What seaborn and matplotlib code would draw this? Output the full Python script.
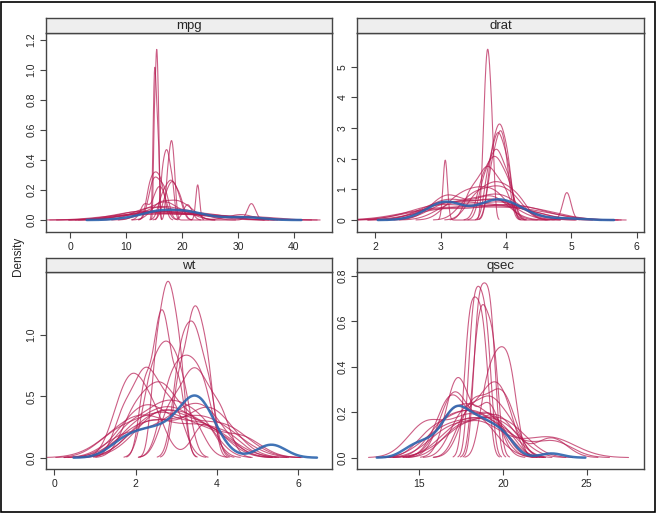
import numpy as np
import pandas as pd
import matplotlib
matplotlib.use("Agg")
import matplotlib.pyplot as plt
import seaborn as sns
from matplotlib.patches import Rectangle

sns.set_style("white")
plt.rcParams['font.family'] = ['Liberation Sans', 'DejaVu Sans']

# ---- observed data (mtcars) ----
mpg_obs = [21.0, 21.0, 22.8, 21.4, 18.7, 18.1, 14.3, 24.4, 22.8, 19.2, 17.8, 16.4, 17.3, 15.2, 10.4, 10.4,
           14.7, 32.4, 30.4, 33.9, 21.5, 15.5, 15.2, 13.3, 19.2, 27.3, 26.0, 30.4, 15.8, 19.7, 15.0, 21.4]
drat_obs = [3.90, 3.90, 3.85, 3.08, 3.15, 2.76, 3.21, 3.69, 3.92, 3.92, 3.92, 3.07, 3.07, 3.07, 2.93, 3.00,
            3.23, 4.08, 4.93, 4.22, 3.70, 2.76, 3.15, 3.73, 3.08, 4.08, 4.43, 3.77, 4.22, 3.62, 3.54, 4.11]
wt_obs = [2.620, 2.875, 2.320, 3.215, 3.440, 3.460, 3.570, 3.190, 3.150, 3.440, 3.440, 4.070, 3.730, 3.780,
          5.250, 5.424, 5.345, 2.200, 1.615, 1.835, 2.465, 3.520, 3.435, 3.840, 3.845, 1.935, 2.140, 1.513,
          3.170, 2.770, 3.570, 2.780]
qsec_obs = [16.46, 17.02, 18.61, 19.44, 17.02, 20.22, 15.84, 20.00, 22.90, 18.30, 18.90, 17.40, 17.60, 18.00,
            17.98, 17.82, 17.42, 19.47, 18.90, 20.01, 20.20, 16.87, 17.30, 15.41, 17.05, 18.90, 16.70, 16.90,
            14.50, 15.50, 14.60, 18.60]

# ---- imputed values (one list per imputation) ----
mpg_imp = [
    [15.03, 15.27, 15.45, 15.60, 15.82],
    [14.9, 15.1, 15.25, 15.5, 15.8],
    [17.4, 17.9, 18.2, 18.6, 22.8],
    [16.4, 16.9, 17.3, 17.7, 18.3],
    [14.0, 14.7, 15.3, 15.9, 16.6],
    [16.3, 17.3, 18.0, 18.7, 19.7],
    [13.3, 15.2, 16.0, 16.8, 21.0],
    [17.0, 18.0, 18.5, 19.5, 32.4],
    [8.0, 13.0, 17.5, 22.0, 30.0],
    [10.4, 14.5, 17.0, 21.0, 27.0],
    [11.0, 15.0, 18.5, 21.5, 26.0],
    [12.0, 14.5, 16.5, 19.0, 23.0],
    [13.0, 15.5, 17.0, 18.5, 21.5],
    [10.5, 12.5, 15.5, 20.0, 24.0],
    [14.0, 16.0, 18.0, 20.5, 30.5],
    [15.5, 16.5, 18.5, 19.5, 21.5],
    [14.3, 15.0, 15.6, 16.4, 17.2],
    [11.5, 14.0, 18.0, 22.0, 33.0],
    [9.5, 15.0, 19.5, 24.0, 31.0],
    [10.0, 12.5, 14.0, 21.0, 25.5],
]
drat_imp = [
    [3.07, 3.66, 3.70, 3.72, 3.75, 3.79],
    [3.76, 3.84, 3.90, 3.96, 4.04],
    [3.75, 3.82, 3.88, 3.92, 3.96, 4.02, 4.93],
    [3.72, 3.82, 3.88, 3.95, 4.04],
    [3.65, 3.77, 3.85, 3.93, 4.05],
    [3.62, 3.74, 3.83, 3.92, 4.05],
    [3.45, 3.62, 3.72, 3.83, 3.99],
    [3.50, 3.70, 3.85, 4.00, 4.20],
    [3.40, 3.60, 3.80, 3.95, 4.15],
    [3.15, 3.35, 3.50, 3.65, 3.80, 3.95],
    [2.85, 3.05, 3.20, 3.75, 3.90, 4.10],
    [2.70, 3.00, 3.15, 3.70, 3.95, 4.30],
    [2.90, 3.10, 3.25, 3.65, 3.85, 4.00],
    [2.60, 3.00, 3.30, 3.80, 4.10, 4.50],
    [3.00, 3.10, 3.20, 3.65, 3.75, 3.90],
    [2.80, 3.20, 3.60, 3.90, 4.20, 4.60],
    [3.10, 3.40, 3.70, 3.90, 4.10],
    [2.90, 3.15, 3.50, 3.85, 4.30],
    [3.05, 3.20, 3.70, 3.80, 4.20],
    [2.75, 3.10, 3.90, 4.00, 4.40],
]
wt_imp = [
    [2.49, 2.67, 2.80, 2.93, 3.11],
    [3.05, 3.30, 3.45, 3.60, 3.80],
    [3.03, 3.22, 3.40, 3.56, 3.82],
    [2.22, 2.50, 2.65, 2.80, 3.08],
    [2.30, 2.55, 2.75, 2.95, 3.20],
    [2.75, 3.02, 3.25, 3.48, 3.75],
    [2.80, 3.20, 3.45, 3.70, 4.10],
    [1.70, 2.10, 2.30, 2.60, 3.00],
    [1.90, 2.30, 2.60, 2.90, 3.40],
    [1.60, 1.90, 2.10, 2.50, 3.70],
    [1.80, 2.30, 2.50, 3.30, 3.90],
    [1.50, 2.20, 2.70, 3.20, 4.00],
    [2.00, 2.40, 3.30, 3.60, 4.30],
    [1.60, 2.20, 2.40, 3.50, 3.90],
    [2.10, 2.60, 3.10, 3.60, 4.60],
    [1.90, 2.50, 2.90, 3.40, 4.20],
    [2.30, 2.70, 3.00, 3.90, 4.40],
    [1.80, 2.40, 2.80, 3.20, 3.70],
    [2.20, 2.50, 3.50, 3.80, 4.10],
    [1.70, 2.60, 3.20, 3.60, 3.90],
]
qsec_imp = [
    [18.39, 18.64, 18.90, 19.16, 19.41],
    [18.08, 18.34, 18.60, 18.86, 19.16],
    [17.85, 18.12, 18.40, 18.68, 18.98],
    [18.32, 18.65, 18.90, 19.23, 19.55],
    [18.90, 19.40, 19.80, 20.20, 20.60],
    [17.60, 18.50, 19.20, 19.70, 20.30],
    [16.50, 17.00, 17.30, 18.90, 19.40],
    [16.80, 17.10, 17.40, 19.00, 19.60],
    [15.20, 15.60, 17.40, 18.20, 19.00],
    [17.50, 18.00, 18.60, 19.20, 22.60, 23.00],
    [17.00, 18.20, 19.50, 20.10, 22.90],
    [16.80, 18.00, 18.80, 20.30, 23.00],
    [15.90, 17.20, 18.30, 19.50, 20.40],
    [16.30, 17.50, 18.80, 19.80, 20.80],
    [15.60, 16.90, 17.80, 18.70, 19.90],
    [16.40, 17.30, 18.10, 18.90, 20.10],
    [17.30, 18.10, 19.00, 19.50, 20.50],
    [17.10, 17.30, 17.50, 19.00, 19.30],
    [16.10, 17.10, 18.10, 18.90, 20.30],
    [17.90, 18.40, 19.30, 19.90, 20.40],
]

panels = [
    dict(name="mpg", obs=mpg_obs, imp=mpg_imp, xlim=(-4.3, 46.8), ylim=(-0.08, 1.247),
         xt=[0, 10, 20, 30, 40], yt=[0.0, 0.2, 0.4, 0.6, 0.8, 1.0, 1.2], yfmt="{:.1f}",
         rect=(46, 33, 332, 232)),
    dict(name="drat", obs=drat_obs, imp=drat_imp, xlim=(1.72, 6.11), ylim=(-0.39, 6.10),
         xt=[2, 3, 4, 5, 6], yt=[0, 1, 2, 3, 4, 5], yfmt="{:.0f}",
         rect=(357, 33, 644, 232)),
    dict(name="wt", obs=wt_obs, imp=wt_imp, xlim=(-0.2, 6.83), ylim=(-0.092, 1.513),
         xt=[0, 2, 4, 6], yt=[0.0, 0.5, 1.0], yfmt="{:.1f}",
         rect=(46, 272, 332, 469)),
    dict(name="qsec", obs=qsec_obs, imp=qsec_imp, xlim=(11.3, 28.42), ylim=(-0.05, 0.818),
         xt=[15, 20, 25], yt=[0.0, 0.2, 0.4, 0.6, 0.8], yfmt="{:.1f}",
         rect=(357, 272, 644, 469)),
]

W, H = 657, 513
fig = plt.figure(figsize=(W / 100, H / 100), dpi=100)

RED = "#B61A51"
BLUE = "#2C65AE"
FRAME = "#444444"


def nrd0_factor(x):
    x = np.asarray(x, float)
    sd = x.std(ddof=1)
    q1, q3 = np.percentile(x, [25, 75])
    lo = min(sd, (q3 - q1) / 1.34)
    if lo <= 0:
        lo = sd if sd > 0 else 1.0
    bw = 0.9 * lo * len(x) ** (-0.2)
    return bw / sd


for p in panels:
    x0, y0, x1, y1 = p["rect"]
    ax = fig.add_axes([x0 / W, 1 - y1 / H, (x1 - x0) / W, (y1 - y0) / H])
    for vals in p["imp"]:
        sns.kdeplot(x=vals, bw_method=nrd0_factor(vals), cut=3, ax=ax,
                    color=RED, alpha=0.7, lw=0.8)
    sns.kdeplot(x=p["obs"], bw_method=nrd0_factor(p["obs"]), cut=3, ax=ax,
                color=BLUE, alpha=0.9, lw=1.8)
    ax.set_xlim(*p["xlim"])
    ax.set_ylim(*p["ylim"])
    ax.set_xticks(p["xt"])
    ax.set_xticklabels([str(v) for v in p["xt"]])
    ax.set_yticks(p["yt"])
    ax.set_yticklabels([p["yfmt"].format(v) for v in p["yt"]], rotation=90, va="center")
    ax.set_xlabel("")
    ax.set_ylabel("")
    ax.tick_params(axis="both", direction="out", length=4, width=0.8, color=FRAME,
                   labelsize=7.5, pad=3, bottom=True, left=True)
    for s in ax.spines.values():
        s.set_color(FRAME)
        s.set_linewidth(1.0)
    # strip
    sh = 15 if y0 < 100 else 14
    sax = fig.add_axes([x0 / W, 1 - y0 / H, (x1 - x0) / W, sh / H])
    sax.set_facecolor("#EEEEEE")
    sax.set_xticks([])
    sax.set_yticks([])
    for s in sax.spines.values():
        s.set_color(FRAME)
        s.set_linewidth(1.0)
    sax.text(0.5, 0.45, p["name"], ha="center", va="center", fontsize=9.5,
             transform=sax.transAxes)

fig.text(18 / W, 0.5, "Density", rotation=90, ha="center", va="center", fontsize=8.5)
fig.patches.append(Rectangle((1 / W, 1 / H), (W - 3) / W, (H - 3) / H, transform=fig.transFigure,
                             fill=False, edgecolor="black", lw=1.2))

fig.savefig("out.png", dpi=100)
